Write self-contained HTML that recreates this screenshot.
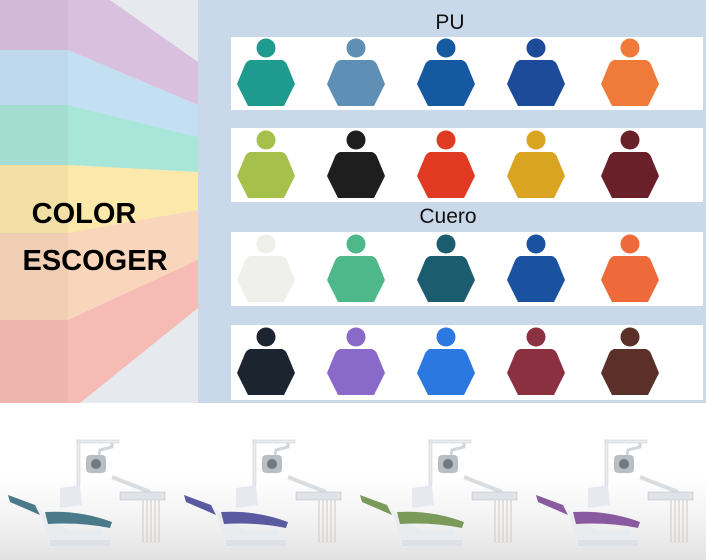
<!DOCTYPE html>
<html><head><meta charset="utf-8"><style>
body{margin:0;width:706px;height:560px;overflow:hidden;font-family:"Liberation Sans",sans-serif}
svg{display:block}
</style></head><body>
<svg width="706" height="560" viewBox="0 0 706 560" xmlns="http://www.w3.org/2000/svg">
<defs>
<linearGradient id="bg" x1="0" y1="0" x2="0" y2="1">
<stop offset="0" stop-color="#ffffff"/><stop offset="0.85" stop-color="#ffffff"/><stop offset="0.93" stop-color="#f2f2f2"/><stop offset="1" stop-color="#e2e2e2"/>
</linearGradient>
<g id="sw">
<circle cx="0" cy="-38" r="9.5"/>
<path d="M-16,-26 L16,-26 Q20,-25 22,-19 L29,-2 L18,20 L-18,20 L-29,-2 L-22,-19 Q-20,-25 -16,-26 Z"/>
</g>
<g id="chair">
<rect x="77" y="440" width="3" height="45" fill="#e8ecef" stroke="#c8cdd2" stroke-width="0.5"/>
<rect x="77" y="440" width="42" height="3" fill="#e8ecef" stroke="#c8cdd2" stroke-width="0.5"/>
<path d="M112,443 L112,447 L100,450 L98,460" stroke="#d0d5da" stroke-width="3" fill="none"/>
<rect x="86" y="455" width="20" height="18" rx="4" fill="#b8bec4"/>
<circle cx="96" cy="464" r="5" fill="#707880"/>
<path d="M112,477 L150,492" stroke="#d8dde2" stroke-width="4"/>
<rect x="120" y="492" width="45" height="8" fill="#dfe3e7" stroke="#b8bec4" stroke-width="0.5"/>
<g stroke="#d4cfc4" stroke-width="1.2"><line x1="143" y1="500" x2="143" y2="543"/><line x1="147" y1="500" x2="147" y2="543"/><line x1="151" y1="500" x2="151" y2="543"/><line x1="155" y1="500" x2="155" y2="543"/><line x1="159" y1="500" x2="159" y2="543"/></g>
<path d="M60,488 L80,485 L82,505 L60,508 Z" fill="#e6eaee"/>
<path d="M40,510 Q70,540 100,528 L110,540 L50,548 Z" fill="#e9ecef"/>
<rect x="50" y="540" width="60" height="6" fill="#dde1e5"/>
<path d="M8,495 L35,505 L40,515 L10,502 Z"/>
<path d="M45,512 Q80,510 112,522 L110,528 Q80,522 48,524 Z"/>
</g>
</defs>
<rect width="706" height="560" fill="url(#bg)"/>
<rect x="0" y="0" width="706" height="403" fill="#e6eaee"/>
<polygon points="0,0 110,0 198,62 198,105 68,50 0,50" fill="#d9c0df"/>
<polygon points="0,50 68,50 198,105 198,137 68,105 0,105" fill="#c3e0f3"/>
<polygon points="0,105 68,105 198,137 198,172 68,165 0,165" fill="#a9e6da"/>
<polygon points="0,165 68,165 198,172 198,210 68,233 0,233" fill="#fbe8ab"/>
<polygon points="0,233 68,233 198,210 198,260 68,320 0,320" fill="#f9d6bb"/>
<polygon points="0,320 68,320 198,260 198,308 80,403 0,403" fill="#f7bbb5"/>
<rect x="0" y="0" width="68" height="403" fill="#000" opacity="0.035"/>
<rect x="198" y="0" width="508" height="403" fill="#c9d9ea"/>
<g fill="#fff">
<rect x="231" y="37" width="472" height="73"/>
<rect x="231" y="128" width="472" height="74"/>
<rect x="231" y="232" width="472" height="74"/>
<rect x="231" y="325" width="472" height="75"/>
</g>
<text x="450" y="29" font-size="21" text-anchor="middle" fill="#111">PU</text>
<text x="448" y="223" font-size="21" text-anchor="middle" fill="#111">Cuero</text>
<text x="84" y="223" font-size="29" font-weight="bold" text-anchor="middle" fill="#000">COLOR</text>
<text x="95" y="270" font-size="29" font-weight="bold" text-anchor="middle" fill="#000">ESCOGER</text>
<use href="#sw" x="266" y="86" fill="#1f9a8e"/>
<use href="#sw" x="356" y="86" fill="#5f8fb5"/>
<use href="#sw" x="446" y="86" fill="#1559a0"/>
<use href="#sw" x="536" y="86" fill="#1d4b9a"/>
<use href="#sw" x="630" y="86" fill="#f07a3a"/>
<use href="#sw" x="266" y="178" fill="#a6c04c"/>
<use href="#sw" x="356" y="178" fill="#1e1e1e"/>
<use href="#sw" x="446" y="178" fill="#e03a22"/>
<use href="#sw" x="536" y="178" fill="#d9a520"/>
<use href="#sw" x="630" y="178" fill="#6a2028"/>
<use href="#sw" x="266" y="282" fill="#efefec"/>
<use href="#sw" x="356" y="282" fill="#4fb88a"/>
<use href="#sw" x="446" y="282" fill="#1b5c6e"/>
<use href="#sw" x="536" y="282" fill="#1b52a0"/>
<use href="#sw" x="630" y="282" fill="#ef6a3a"/>
<use href="#sw" x="266" y="375" fill="#1c2430"/>
<use href="#sw" x="356" y="375" fill="#8a6ac8"/>
<use href="#sw" x="446" y="375" fill="#2a78e0"/>
<use href="#sw" x="536" y="375" fill="#8a3040"/>
<use href="#sw" x="630" y="375" fill="#5a3028"/>
<use href="#chair" x="0" y="0" fill="#4a7a8a"/>
<use href="#chair" x="176" y="0" fill="#5a5aa0"/>
<use href="#chair" x="352" y="0" fill="#7a9a5a"/>
<use href="#chair" x="528" y="0" fill="#8a5aa0"/>
</svg>
</body></html>
